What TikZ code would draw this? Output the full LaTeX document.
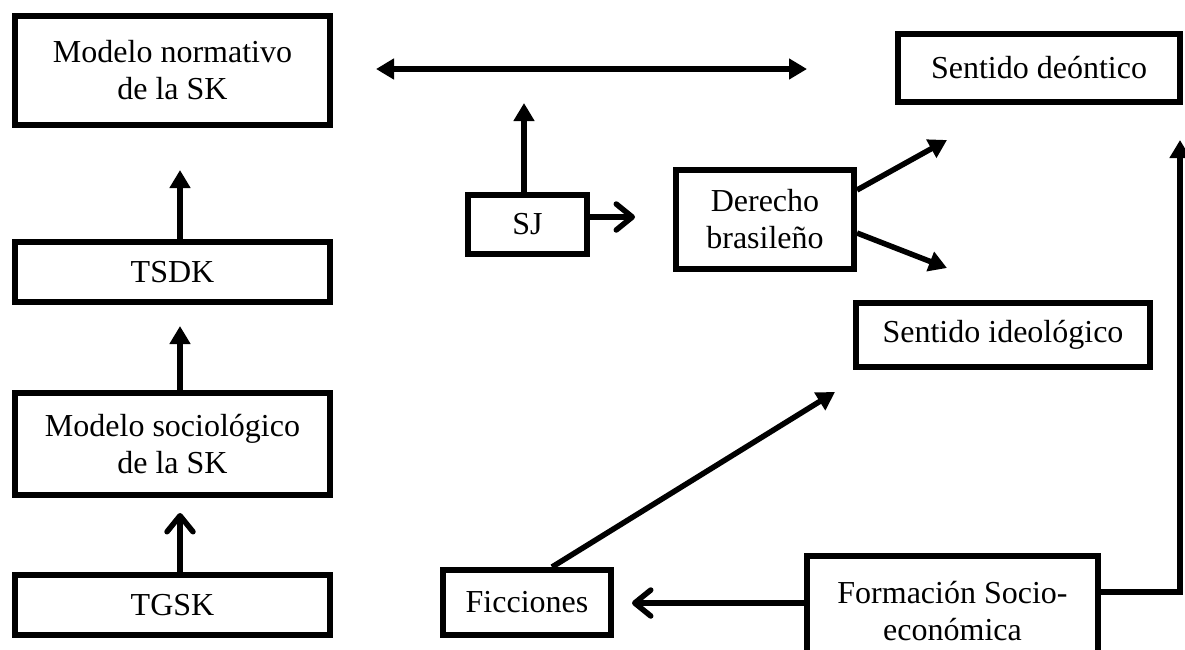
\documentclass[tikz,border=0pt]{standalone}
\usepackage{fontspec}
\setmainfont{Liberation Serif}
\usetikzlibrary{arrows.meta,calc}
\begin{document}
\begin{tikzpicture}[x=1pt,y=-1pt,
  box/.style={draw, line width=6pt, inner sep=0pt, align=center, font=\fontsize{32}{37}\selectfont},
  conn/.style={line width=5.5pt},
  tri/.style={-{Triangle[length=18pt,width=20pt]}},
  dtri/.style={{Triangle[length=18pt,width=20pt]}-{Triangle[length=18pt,width=20pt]}},
  barb/.style={-{Straight Barb[length=16pt,width=26pt,line cap=round,line join=round]}}
]
\useasboundingbox (0,0) rectangle (1185,649);
\clip (0,0) rectangle (1185,649);

% left column
\node[box, minimum width=315pt, minimum height=109pt] (mn) at (172.5,70.5) {Modelo normativo\\de la SK};
\node[box, minimum width=315pt, minimum height=60pt] (tsdk) at (172.5,272) {TSDK};
\node[box, minimum width=315pt, minimum height=102pt] (ms) at (172.5,444) {Modelo sociológico\\de la SK};
\node[box, minimum width=315pt, minimum height=60pt] (tgsk) at (172.5,605) {TGSK};

% middle
\node[box, minimum width=119pt, minimum height=59pt] (sj) at (527.5,224.5) {SJ};
\node[box, minimum width=178pt, minimum height=99pt] (der) at (765,219.5) {Derecho\\brasileño};

% right
\node[box, minimum width=282pt, minimum height=68pt] (sd) at (1039,68) {Sentido deóntico};
\node[box, minimum width=294pt, minimum height=64pt] (si) at (1003,335) {Sentido ideológico};

% bottom
\node[box, minimum width=168pt, minimum height=65pt] (fic) at (527,602.5) {Ficciones};
\node[box, minimum width=291pt, minimum height=110pt] (form) at (952.5,611) {Formación Socio-\\económica};

% coordinates
\coordinate (ax) at (180,0);
\coordinate (tipMN) at (180,170);
\coordinate (tipTS) at (180,326);
\coordinate (tipMS) at (180,513);
\coordinate (dl) at (376,69);
\coordinate (dr) at (807,69);
\coordinate (sjx) at (524,0);
\coordinate (tipSJ) at (524,103);
\coordinate (tipDer) at (635,217);
\coordinate (d1) at (0,190);
\coordinate (d2) at (0,233);
\coordinate (tipSD) at (947,140);
\coordinate (tipSI2) at (947,268);
\coordinate (fx) at (552,0);
\coordinate (tipSI) at (835,392);
\coordinate (f1) at (0,603);
\coordinate (tipFic) at (632,603);
\coordinate (f2) at (0,592);
\coordinate (corner) at (1180,592);
\coordinate (tipR) at (1180,140);

% connectors
\draw[conn,tri] (ax |- tsdk.north) -- (tipMN);
\draw[conn,tri] (ax |- ms.north) -- (tipTS);
\draw[conn,barb] (ax |- tgsk.north) -- (tipMS);
\draw[conn,dtri] (dl) -- (dr);
\draw[conn,tri] (sjx |- sj.north) -- (tipSJ);
\draw[conn,barb] (sj.east |- tipDer) -- (tipDer);
\draw[conn,tri] (der.east |- d1) -- (tipSD);
\draw[conn,tri] (der.east |- d2) -- (tipSI2);
\draw[conn,tri] (fx |- fic.north) -- (tipSI);
\draw[conn,barb] (form.west |- f1) -- (tipFic);
\draw[conn,tri,line join=miter] (form.east |- f2) -- (corner) -- (tipR);
\end{tikzpicture}
\end{document}
